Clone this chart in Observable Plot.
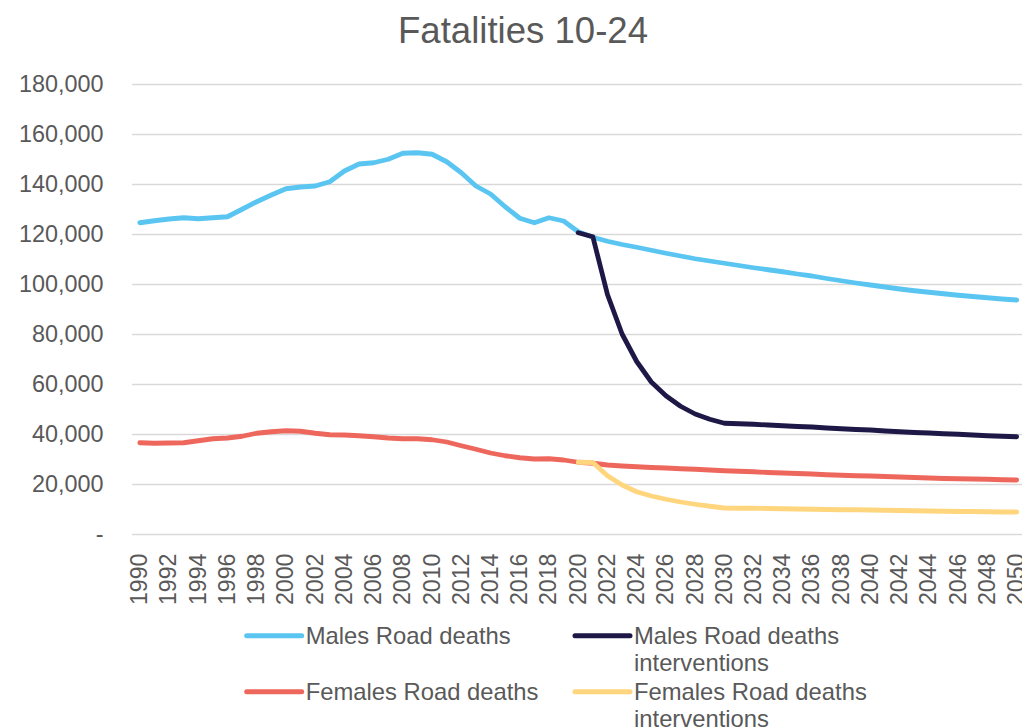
<!DOCTYPE html>
<html>
<head>
<meta charset="utf-8">
<script src="https://cdn.jsdelivr.net/npm/d3@7"></script>
<script src="https://cdn.jsdelivr.net/npm/@observablehq/plot@0.6"></script>
<style>
  html, body { margin: 0; padding: 0; background: #fff; }
  #wrap { position: relative; width: 1022px; height: 728px; overflow: hidden; font-family: "Liberation Sans", Arial, sans-serif; }
  #chart, #overlay { position: absolute; left: 0; top: 0; }
  #overlay { pointer-events: none; }
</style>
</head>
<body>
<div id="wrap">
  <div id="chart"></div>
  <svg id="overlay" width="1022" height="728"></svg>
</div>
<script>
const title = "Fatalities 10-24";

const years = [1990,1991,1992,1993,1994,1995,1996,1997,1998,1999,2000,2001,2002,2003,2004,2005,2006,2007,2008,2009,2010,2011,2012,2013,2014,2015,2016,2017,2018,2019,2020,2021,2022,2023,2024,2025,2026,2027,2028,2029,2030,2031,2032,2033,2034,2035,2036,2037,2038,2039,2040,2041,2042,2043,2044,2045,2046,2047,2048,2049,2050];

const projYears = [2020,2021,2022,2023,2024,2025,2026,2027,2028,2029,2030,2031,2032,2033,2034,2035,2036,2037,2038,2039,2040,2041,2042,2043,2044,2045,2046,2047,2048,2049,2050];

const malesRoad = [124700,125500,126200,126700,126300,126700,127100,130100,133100,135800,138300,139000,139400,141100,145400,148200,148700,150100,152500,152700,152100,149100,144700,139400,136200,131100,126500,124700,126700,125400,121100,118900,117300,116000,114900,113700,112500,111400,110300,109400,108500,107600,106700,105900,105100,104200,103400,102400,101500,100600,99800,99000,98200,97500,96900,96300,95700,95200,94700,94200,93800];

const malesInterventions = [120700,119100,96000,80200,69200,61000,55500,51300,48200,46100,44500,44300,44100,43800,43500,43200,43000,42600,42300,42000,41800,41400,41100,40800,40600,40300,40100,39800,39500,39300,39100];

const femalesRoad = [36700,36500,36600,36700,37500,38300,38600,39300,40500,41100,41500,41300,40500,39900,39800,39500,39100,38600,38300,38300,37900,37000,35500,34100,32600,31500,30700,30200,30300,29800,28900,28500,27800,27400,27100,26800,26600,26300,26100,25800,25500,25300,25100,24800,24600,24400,24200,23900,23700,23500,23400,23200,23000,22800,22600,22400,22300,22200,22100,21900,21800];

const femalesInterventions = [28900,28800,23500,19800,17100,15400,14100,13000,12100,11300,10600,10500,10500,10400,10300,10200,10100,10000,9900,9900,9800,9700,9600,9500,9400,9300,9200,9200,9100,9000,9000];

const seriesNames = ["Males Road deaths", "Males Road deaths interventions", "Females Road deaths", "Females Road deaths interventions"];
const seriesColors = ["#5BC5F2", "#1E1846", "#EE675C", "#FFD67D"];

const yTicks = [0,20000,40000,60000,80000,100000,120000,140000,160000,180000];
const xTicks = [1990,1992,1994,1996,1998,2000,2002,2004,2006,2008,2010,2012,2014,2016,2018,2020,2022,2024,2026,2028,2030,2032,2034,2036,2038,2040,2042,2044,2046,2048,2050];

const rows = [];
years.forEach((yr, i) => rows.push({year: yr, value: malesRoad[i], series: seriesNames[0]}));
projYears.forEach((yr, i) => rows.push({year: yr, value: malesInterventions[i], series: seriesNames[1]}));
years.forEach((yr, i) => rows.push({year: yr, value: femalesRoad[i], series: seriesNames[2]}));
projYears.forEach((yr, i) => rows.push({year: yr, value: femalesInterventions[i], series: seriesNames[3]}));

const fmt = d3.format(",");
const lineMarks = seriesNames.map((name, k) =>
  Plot.line(rows.filter(r => r.series === name), {
    x: "year", y: "value", stroke: seriesColors[k], strokeWidth: 4.8,
    strokeLinecap: "round", strokeLinejoin: "round"
  })
);

const chart = Plot.plot({
  width: 1022,
  height: 728,
  marginLeft: 132,
  marginRight: 0,
  marginTop: 84,
  marginBottom: 194,
  style: {fontFamily: "'Liberation Sans', Arial, sans-serif", fontSize: "23.4px", color: "#595959", background: "transparent"},
  x: {type: "linear", domain: [1989.5, 2050.4]},
  y: {domain: [0, 180000]},
  marks: [
    Plot.gridY(yTicks, {stroke: "#D9D9D9", strokeOpacity: 1, strokeWidth: 1.4}),
    Plot.axisY(yTicks, {tickSize: 0, tickPadding: 29, tickFormat: d => d === 0 ? "-" : fmt(d), label: null, fontSize: 23.4}),
    Plot.axisX(xTicks, {tickSize: 0, tickPadding: 19, tickRotate: -90, tickFormat: d => String(d), label: null, fontSize: 23.2}),
    ...lineMarks
  ]
});
document.getElementById("chart").appendChild(chart);

// Title and legend
const ov = d3.select("#overlay");
ov.append("text")
  .attr("x", 523).attr("y", 43.3)
  .attr("text-anchor", "middle")
  .attr("font-family", "'Liberation Sans', Arial, sans-serif")
  .attr("font-size", 36.6)
  .attr("fill", "#595959")
  .text(title);

const legendItems = [
  {name: seriesNames[0], lines: ["Males Road deaths"], x: 246.7, y: 635.7},
  {name: seriesNames[1], lines: ["Males Road deaths", "interventions"], x: 575, y: 635.7},
  {name: seriesNames[2], lines: ["Females Road deaths"], x: 246.7, y: 691.7},
  {name: seriesNames[3], lines: ["Females Road deaths", "interventions"], x: 575, y: 691.7}
];
legendItems.forEach(it => {
  const k = seriesNames.indexOf(it.name);
  ov.append("line")
    .attr("x1", it.x).attr("x2", it.x + 55)
    .attr("y1", it.y).attr("y2", it.y)
    .attr("stroke", seriesColors[k]).attr("stroke-width", 5)
    .attr("stroke-linecap", "round");
  it.lines.forEach((t, j) => {
    ov.append("text")
      .attr("x", it.x + 59).attr("y", it.y + 8.5 + j * 27)
      .attr("font-family", "'Liberation Sans', Arial, sans-serif")
      .attr("font-size", 23.8)
      .attr("fill", "#595959")
      .text(t);
  });
});
</script>
</body>
</html>
